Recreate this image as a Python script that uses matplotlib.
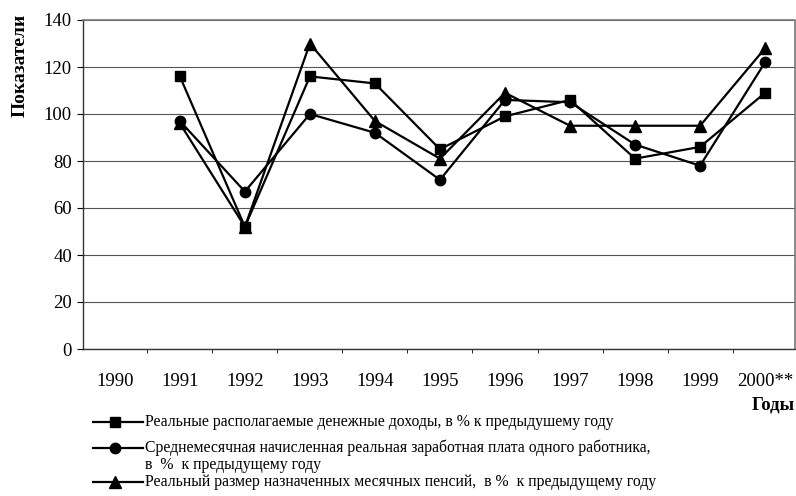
import matplotlib
matplotlib.use("Agg")
import matplotlib.pyplot as plt
from matplotlib.lines import Line2D

years = ["1990", "1991", "1992", "1993", "1994", "1995", "1996", "1997", "1998", "1999", "2000**"]
income = [None, 116, 52, 116, 113, 85, 99, 106, 81, 86, 109]
wages = [None, 97, 67, 100, 92, 72, 106, 105, 87, 78, 122]
pensions = [None, 96, 52, 130, 97, 81, 109, 95, 95, 95, 128]

labels = [
    "Реальные располагаемые денежные доходы, в % к предыдушему году",
    "Среднемесячная начисленная реальная заработная плата одного работника,\nв  %  к предыдущему году",
    "Реальный размер назначенных месячных пенсий,  в %  к предыдущему году",
]

plt.rcParams['font.family'] = ['Liberation Serif', 'DejaVu Serif']

fig = plt.figure(figsize=(7.96, 4.96), dpi=100)
ax = fig.add_axes([83/796, 1-349/496, 712/796, 329/496])

x = list(range(len(years)))

def pts(vals):
    xs = [i for i, v in zip(x, vals) if v is not None]
    ys = [v for v in vals if v is not None]
    return xs, ys

xs, ys = pts(income)
l1, = ax.plot(xs, ys, color='black', lw=1.6, marker='s', ms=7.5, zorder=3)
xs, ys = pts(wages)
l2, = ax.plot(xs, ys, color='black', lw=1.6, marker='o', ms=7.5, zorder=3)
xs, ys = pts(pensions)
l3, = ax.plot(xs, ys, color='black', lw=1.6, marker='^', ms=8, zorder=3)

ax.set_xlim(-0.49, 10.46)
ax.set_ylim(0, 140)
ax.set_yticks(range(0, 141, 20))
ax.set_xticks(x)
ax.set_xticklabels(years, fontsize=13.5)
ax.tick_params(axis='y', labelsize=13.5, length=4, direction='out', pad=4)
ax.tick_params(axis='x', length=0, pad=17)
ax.set_xticks([i - 0.5 for i in range(1, 11)], minor=True)
ax.tick_params(axis='x', which='minor', length=3, direction='out')

ax.grid(axis='y', color='#555555', lw=0.8)
ax.set_axisbelow(True)
for s in ['top', 'right']:
    ax.spines[s].set_color('#777777')
    ax.spines[s].set_linestyle((0, (1, 1)))
    ax.spines[s].set_linewidth(1.2)
ax.spines['left'].set_color('#333333')
ax.spines['left'].set_linewidth(1.0)
ax.spines['bottom'].set_color('#333333')
ax.spines['bottom'].set_linewidth(1.0)

fig.text(20/796, 1-65/496, "Показатели", rotation=90, ha='center', va='center',
         fontsize=14, fontweight='bold')
fig.text(795/796, 1-405/496, "Годы", ha='right', va='center', fontsize=13.5, fontweight='bold')

# legend drawn below the chart
fs = 11.3
entries = [(l1, 422), (l2, 448), (l3, 482)]
for (ln, yy), lab in zip(entries, labels):
    yf = 1 - yy/496
    fig.add_artist(Line2D([93/796, 143/796], [yf, yf], color='black', lw=1.6,
                          transform=fig.transFigure))
    fig.add_artist(Line2D([115/796], [yf], color='black', lw=0, marker=ln.get_marker(),
                          ms=ln.get_markersize(), transform=fig.transFigure))
    if '\n' in lab:
        first, second = lab.split('\n')
        fig.text(145/796, yf, first, ha='left', va='center', fontsize=fs)
        fig.text(145/796, yf - 17/496, second, ha='left', va='center', fontsize=fs)
    else:
        fig.text(145/796, yf, lab, ha='left', va='center', fontsize=fs)

fig.savefig("out.png", dpi=100)
